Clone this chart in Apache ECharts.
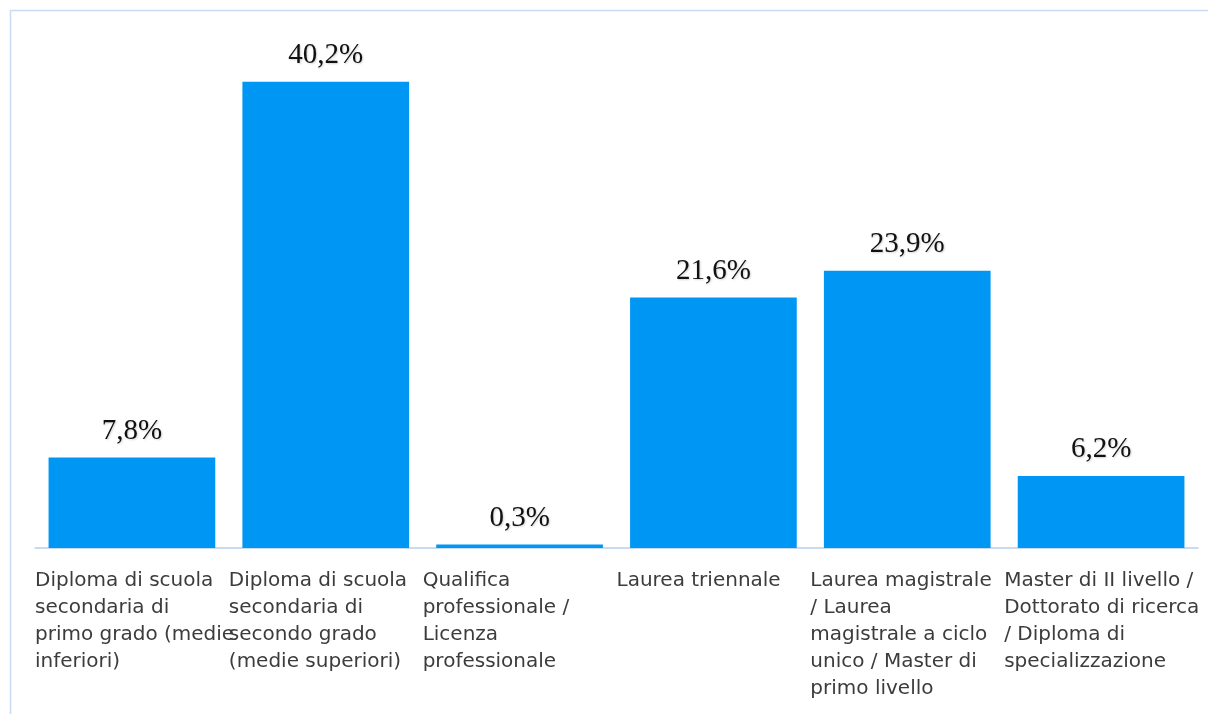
<!DOCTYPE html>
<html>
<head>
<meta charset="utf-8">
<script src="https://cdn.jsdelivr.net/npm/echarts@6/dist/echarts.min.js"></script>
<style>
  html, body { margin: 0; padding: 0; background: #ffffff; }
  #chart { width: 1208px; height: 714px; }
</style>
</head>
<body>
<div id="chart"></div>
<script>
// Titolo di studio: quota percentuale per livello
const categories = [
  'Diploma di scuola\nsecondaria di\nprimo grado (medie\ninferiori)',
  'Diploma di scuola\nsecondaria di\nsecondo grado\n(medie superiori)',
  'Qualifica\nprofessionale /\nLicenza\nprofessionale',
  'Laurea triennale',
  'Laurea magistrale\n/ Laurea\nmagistrale a ciclo\nunico / Master di\nprimo livello',
  'Master di II livello /\nDottorato di ricerca\n/ Diploma di\nspecializzazione'
];
const values = [7.8, 40.2, 0.3, 21.6, 23.9, 6.2];

const chart = echarts.init(document.getElementById('chart'), null, { renderer: 'canvas' });

// Label axis placing each wrapped category name at the left edge of its band.
// Two of them (even / odd categories) so that overflowing lines are never culled.
function labelAxis(parity) {
  return {
    type: 'value',
    position: 'bottom',
    offset: 0,
    min: 0, max: categories.length, interval: 1,
    axisLine: { show: false },
    axisTick: { show: false },
    splitLine: { show: false },
    axisLabel: {
      show: true,
      margin: 19,
      align: 'left',
      verticalAlign: 'top',
      color: '#3c3c3c',
      fontFamily: '"DejaVu Sans", sans-serif',
      fontSize: 20,
      lineHeight: 27,
      hideOverlap: false,
      showMinLabel: true,
      showMaxLabel: false,
      formatter: v => (v % 2 === parity ? (categories[v] || '') : '')
    }
  };
}

chart.setOption({
  animation: false,
  backgroundColor: '#ffffff',
  graphic: [{
    type: 'rect',
    left: 8, top: 8,
    shape: { x: 0, y: 0, width: 1220, height: 730 },
    style: { fill: 'none', stroke: '#c9dcf3', lineWidth: 1.5 },
    silent: true
  }],
  grid: { left: 35, right: 10, top: 26, bottom: 166 },
  xAxis: [{
    type: 'category',
    data: categories,
    axisLine: { show: true, lineStyle: { color: '#b8cfee', width: 1.5 } },
    axisTick: { show: false },
    axisLabel: { show: false }
  }, labelAxis(0), labelAxis(1)],
  yAxis: {
    type: 'value',
    min: 0, max: 45,
    show: false
  },
  series: [{
    type: 'bar',
    xAxisIndex: 0,
    data: values,
    barCategoryGap: '14%',
    itemStyle: { color: '#0096f4' },
    label: {
      show: true,
      position: 'top',
      distance: 12,
      color: '#111111',
      fontFamily: '"Liberation Serif", serif',
      fontSize: 29,
      textShadowColor: 'rgba(0,0,0,0.18)',
      textShadowBlur: 2,
      textShadowOffsetX: 1,
      textShadowOffsetY: 1,
      formatter: p => p.value.toFixed(1).replace('.', ',') + '%'
    }
  }]
});
</script>
</body>
</html>
